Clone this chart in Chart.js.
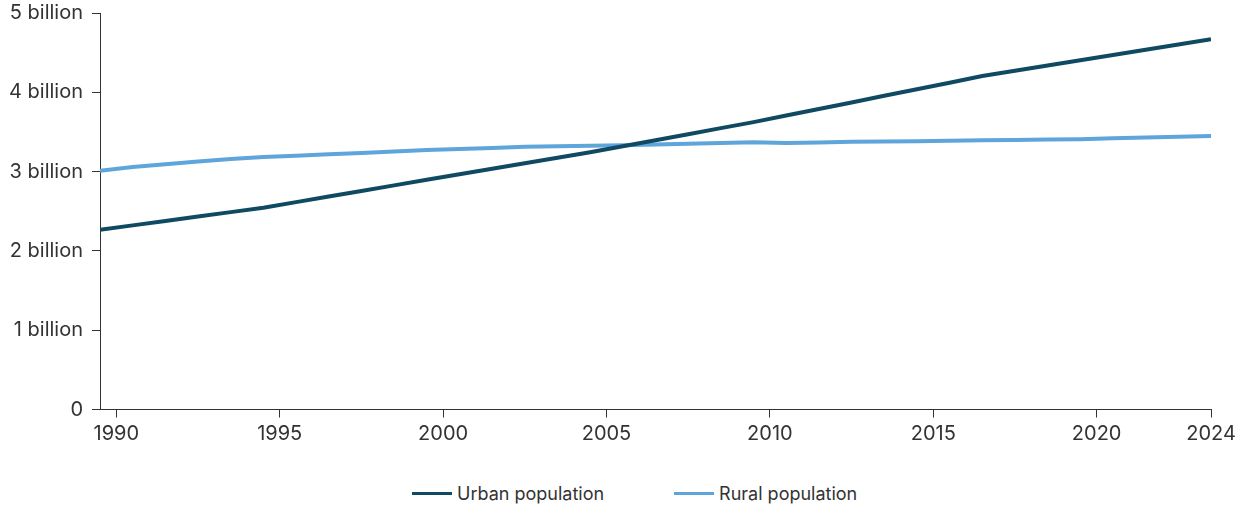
<!DOCTYPE html>
<html>
<head>
<meta charset="utf-8">
<script src="https://cdn.jsdelivr.net/npm/chart.js@4/dist/chart.umd.min.js"></script>
<style>
    html, body { margin: 0; padding: 0; background: #fff; }
    #wrap { position: relative; width: 1235px; height: 446px; }
    #legend {
        position: absolute; top: 483px; left: 412px;
        display: flex; gap: 70px;
        font: 18px Inter, sans-serif; color: #333;
    }
    #legend .item { display: flex; align-items: center; gap: 5px; }
    #legend .swatch { width: 40px; height: 3px; }
</style>
</head>
<body>
<div id="wrap"><canvas id="popChart"></canvas></div>
<div id="legend"></div>
<script>
// Годы наблюдений
const years = [
    1990, 1991, 1992, 1993, 1994, 1995, 1996, 1997, 1998, 1999,
    2000, 2001, 2002, 2003, 2004, 2005, 2006, 2007, 2008, 2009,
    2010, 2011, 2012, 2013, 2014, 2015, 2016, 2017, 2018, 2019,
    2020, 2021, 2022, 2023, 2024
];

// Городское население, млрд
const urbanPopulation = [
    2.266, 2.322, 2.378, 2.433, 2.489, 2.544, 2.615, 2.686, 2.755, 2.826,
    2.898, 2.967, 3.037, 3.105, 3.174, 3.244, 3.320, 3.395, 3.471, 3.548,
    3.624, 3.707, 3.790, 3.872, 3.956, 4.038, 4.121, 4.205, 4.271, 4.338,
    4.404, 4.471, 4.537, 4.603, 4.669
];

// Сельское население, млрд
const ruralPopulation = [
    3.011, 3.058, 3.092, 3.126, 3.160, 3.184, 3.201, 3.218, 3.236, 3.254,
    3.271, 3.285, 3.299, 3.312, 3.321, 3.327, 3.333, 3.341, 3.351, 3.361,
    3.369, 3.361, 3.367, 3.375, 3.380, 3.384, 3.389, 3.394, 3.399, 3.404,
    3.409, 3.419, 3.429, 3.439, 3.449
];

// Подписи осей
const tickYears = [1990, 1995, 2000, 2005, 2010, 2015, 2020, 2024];
const yTicks = [0, 1, 2, 3, 4, 5];

const seriesNames = ['Urban population', 'Rural population'];
const seriesColors = ['#0f4a62', '#5ea5dc'];

const axisColor = '#333';
const fontFamily = 'Inter, sans-serif';

function toPoints(values) {
    return values.map((v, i) => ({ x: years[i], y: v }));
}

document.addEventListener('DOMContentLoaded', () => {
    const ctx = document.getElementById('popChart');

    const chart = new Chart(ctx, {
        type: 'line',
        data: {
            datasets: [urbanPopulation, ruralPopulation].map((values, i) => ({
                label: seriesNames[i],
                data: toPoints(values),
                borderColor: seriesColors[i],
                backgroundColor: seriesColors[i],
                borderWidth: 4,
                pointRadius: 0,
                tension: 0,
                borderJoinStyle: 'round'
            }))
        },
        options: {
            responsive: true,
            maintainAspectRatio: false,
            animation: false,
            layout: { padding: { top: 13, right: 24, left: 0, bottom: 0 } },
            plugins: {
                legend: { display: false },
                tooltip: { enabled: false }
            },
            scales: {
                x: {
                    type: 'linear',
                    min: years[0],
                    max: years[years.length - 1],
                    border: { color: axisColor, width: 1 },
                    grid: { drawOnChartArea: false, tickLength: 8, color: axisColor },
                    // подпись года стоит в середине года, последняя — в конце оси
                    afterBuildTicks: scale => {
                        const last = tickYears[tickYears.length - 1];
                        scale.ticks = tickYears.map(y => ({ value: y === last ? y : y + 0.5 }));
                    },
                    afterFit: scale => {
                        scale.height = 36.5;
                        scale.paddingLeft = 0;
                        scale.paddingRight = 0;
                    },
                    ticks: {
                        padding: 4,
                        maxRotation: 0,
                        color: axisColor,
                        font: { family: fontFamily, size: 20 },
                        callback: value => String(Math.floor(value))
                    }
                },
                y: {
                    min: 0,
                    max: 5,
                    border: { color: axisColor, width: 1 },
                    grid: { drawOnChartArea: false, tickLength: 8, color: axisColor },
                    afterBuildTicks: scale => {
                        scale.ticks = yTicks.map(v => ({ value: v }));
                    },
                    afterFit: scale => {
                        scale.width = 100;
                        scale.paddingTop = 0;
                        scale.paddingBottom = 0;
                    },
                    ticks: {
                        padding: 9,
                        color: axisColor,
                        font: { family: fontFamily, size: 20 },
                        callback: value => value === 0 ? '0' : value + ' billion'
                    }
                }
            }
        }
    });

    buildLegend(chart);
});

// Легенда под графиком
function buildLegend(chart) {
    const legend = document.getElementById('legend');
    chart.data.datasets.forEach(ds => {
        const item = document.createElement('div');
        item.className = 'item';
        item.innerHTML = `<span class="swatch" style="background:${ds.borderColor}"></span><span>${ds.label}</span>`;
        legend.appendChild(item);
    });
}
</script>
</body>
</html>
